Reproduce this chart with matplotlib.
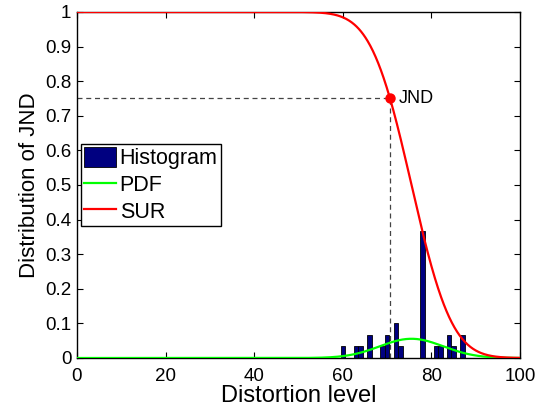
import math
import numpy as np
import matplotlib
matplotlib.use("Agg")
import matplotlib.pyplot as plt

plt.rcParams['font.family'] = ['Liberation Sans', 'DejaVu Sans']

# histogram of JND samples (distortion level -> fraction of subjects)
levels = [60, 63, 64, 66, 69, 70, 72, 73, 78, 81, 82, 84, 85, 87]
counts = [1, 1, 1, 2, 1, 2, 3, 1, 11, 1, 1, 2, 1, 2]
n_total = sum(counts)
fractions = [c / n_total for c in counts]

xticks = [0, 20, 40, 60, 80, 100]
yticks = [0, 0.1, 0.2, 0.3, 0.4, 0.5, 0.6, 0.7, 0.8, 0.9, 1]
ytick_labels = ['0', '0.1', '0.2', '0.3', '0.4', '0.5', '0.6', '0.7', '0.8', '0.9', '1']
jnd_level = 0.75

# normal fit to the samples
samples = np.repeat(levels, counts)
mu = samples.mean()
sigma = samples.std(ddof=1)

x = np.linspace(0, 100, 1001)
pdf = np.exp(-0.5 * ((x - mu) / sigma) ** 2) / (sigma * math.sqrt(2 * math.pi))
sur = np.array([0.5 * math.erfc((v - mu) / (sigma * math.sqrt(2))) for v in x])
# level where the survival curve drops to 0.75
x_jnd = mu - 0.6744897501960817 * sigma

fig = plt.figure(figsize=(5.55, 4.09), dpi=100)
ax = fig.add_axes([0.1387, 0.1247, 0.7983, 0.846])

h_bar = ax.bar(levels, fractions, width=1.0, color='#000080', edgecolor='black',
               linewidth=0.6, label='Histogram', zorder=2)
h_pdf, = ax.plot(x, pdf, color='#00ff00', lw=1.6, label='PDF', zorder=3)
h_sur, = ax.plot(x, sur, color='red', lw=1.6, label='SUR', zorder=3)

ax.plot([0, x_jnd], [jnd_level, jnd_level], ls=(0, (4, 3)), color='#444444', lw=0.9, zorder=1)
ax.plot([x_jnd, x_jnd], [0, jnd_level], ls=(0, (4, 3)), color='#444444', lw=0.9, zorder=1)
ax.plot([x_jnd], [jnd_level], 'o', color='red', ms=6.5, zorder=4)
ax.text(x_jnd + 2, jnd_level, 'JND', fontsize=13, va='center', ha='left')

ax.set_xlim(0, 100)
ax.set_ylim(0, 1)
ax.set_xticks(xticks)
ax.set_yticks(yticks)
ax.set_yticklabels(ytick_labels)
ax.tick_params(direction='in', top=True, right=True, labelsize=13.5, length=4)
ax.tick_params(axis='x', pad=7)
ax.tick_params(axis='y', pad=4)
for s in ax.spines.values():
    s.set_linewidth(1.0)

ax.set_xlabel('Distortion level', fontsize=17, labelpad=0)
ax.set_ylabel('Distribution of JND', fontsize=16, labelpad=4)

leg = ax.legend([h_bar, h_pdf, h_sur], ['Histogram', 'PDF', 'SUR'],
                loc='upper left', bbox_to_anchor=(0.009, 0.618), borderaxespad=0,
                fontsize=15.5, fancybox=False, framealpha=1, edgecolor='black',
                handlelength=1.5, handleheight=1.0, handletextpad=0.15,
                borderpad=0.15, labelspacing=0.22)
leg.get_frame().set_linewidth(1.0)

fig.savefig('out.png', dpi=100)
